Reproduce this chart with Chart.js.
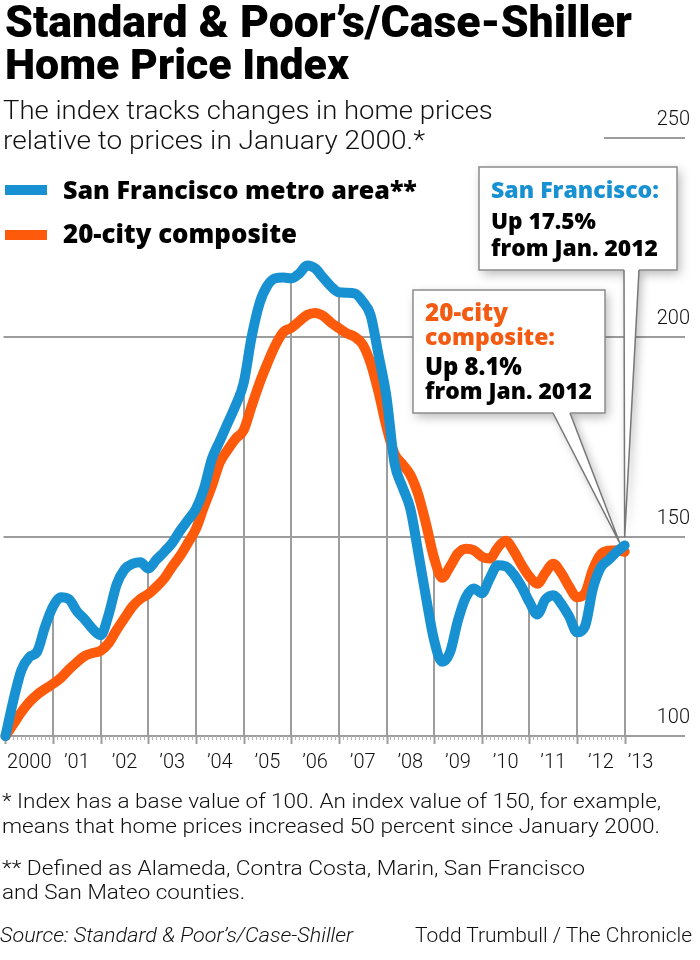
<!DOCTYPE html>
<html>
<head>
<meta charset="utf-8">
<script src="https://cdn.jsdelivr.net/npm/chart.js@4.4.1/dist/chart.umd.min.js"></script>
<style>
  body { margin: 0; background: #fff; }
  #wrap { position: relative; width: 700px; height: 960px; overflow: hidden; }
  canvas { position: absolute; left: 0; top: 0; }
  .t { position: absolute; white-space: nowrap; line-height: 1; transform: translateY(-50%);
       transform-origin: 0 50%; color: #111; font-family: Roboto, sans-serif; font-size: 20px; }
  .title { font-weight: 900; color: #000; }
  .sub, .foot { font-weight: 300; }
  .sub { font-size: 26px; }
  .foot { font-size: 21px; }
  .leg, .call { font-family: "Open Sans", sans-serif; font-weight: 800; color: #000; }
  .blue { color: #1791d1; }
  .orange { color: #f35a12; }
  .ital { font-style: italic; }
</style>
</head>
<body>
<div id="wrap">
  <canvas id="chart" width="700" height="960"></canvas>

  <div class="t title" style="left:5px;top:22px" data-w="627">Standard &amp; Poor’s/Case-Shiller</div>
  <div class="t title" style="left:5px;top:64px" data-w="344">Home Price Index</div>
  <div class="t sub" style="left:3px;top:110px" data-sx="490">The index tracks changes in home prices</div>
  <div class="t sub" style="left:3px;top:140px" data-sx="422">relative to prices in January 2000.*</div>

  <div class="t leg" style="left:63px;top:190px" data-w="354">San Francisco metro area**</div>
  <div class="t leg" style="left:63px;top:234px" data-w="234">20-city composite</div>

  <div class="t call blue" style="left:491px;top:190px" data-w="168">San Francisco:</div>
  <div class="t call" style="left:491px;top:221px" data-w="105">Up 17.5%</div>
  <div class="t call" style="left:491px;top:248px" data-w="167">from Jan. 2012</div>

  <div class="t call orange" style="left:425px;top:312px" data-w="83">20-city</div>
  <div class="t call orange" style="left:425px;top:336px" data-w="130">composite:</div>
  <div class="t call" style="left:425px;top:367px" data-w="97">Up 8.1%</div>
  <div class="t call" style="left:425px;top:391px" data-w="167">from Jan. 2012</div>

  <div class="t foot" style="left:2px;top:801px" data-sx="659">* Index has a base value of 100. An index value of 150, for example,</div>
  <div class="t foot" style="left:2px;top:826px" data-sx="658">means that home prices increased 50 percent since January 2000.</div>
  <div class="t foot" style="left:2px;top:868px" data-sx="583">** Defined as Alameda, Contra Costa, Marin, San Francisco</div>
  <div class="t foot" style="left:2px;top:892px" data-sx="243">and San Mateo counties.</div>
  <div class="t foot ital" style="left:0px;top:935px" data-sx="353">Source: Standard &amp; Poor’s/Case-Shiller</div>
  <div class="t foot" style="left:415px;top:935px" data-sx="277">Todd Trumbull / The Chronicle</div>
</div>

<script>
// every other month, Jan 2000 .. Jan 2013
const dates = [];
for (let yr = 2000; yr <= 2012; yr++) {
  for (const mo of ['Jan', 'Mar', 'May', 'Jul', 'Sep', 'Nov']) dates.push(mo + ' ' + yr);
}
dates.push('Jan 2013');

const sfIndex = [
  100, 109, 116.5, 119.8, 121.2, 127.5,
  132.5, 134.8, 134.3, 131.3, 129.2, 126.8,
  125.3, 130.5, 138, 141.8, 143.2, 143.6,
  142, 144.2, 146.2, 148.4, 151.5, 154.2,
  157, 162, 169.5, 174, 178.5, 183,
  188.5, 200, 208.5, 213, 214.8, 215,
  214.8, 216, 218, 217.3, 215, 212.8,
  211.3, 211.2, 211, 209, 205.5, 195.5,
  185, 168.5, 162.5, 157, 146, 134.5,
  124, 118.6, 121, 129, 134.8, 137,
  135.8, 139.5, 142.8, 142.6, 140.6, 137.5,
  133.6, 130.5, 134.2, 135.3, 133.2, 130,
  126, 127.5, 137, 142.3, 144.2, 146.2,
  147.8
];

const compositeIndex = [
  100, 103, 106, 108.5, 110.4, 111.8,
  113.1, 114.6, 116.7, 118.5, 120.1, 120.8,
  121.4, 123.3, 126.6, 129.6, 132.5, 134.4,
  135.6, 137.4, 139.5, 142.5, 145.2, 148.5,
  152, 157.5, 162.7, 168.6, 171.8, 174.6,
  176.7, 182.7, 188.5, 193.5, 198, 201.3,
  202.4, 204, 205.6, 206.1, 205.4, 203.7,
  202.3, 201, 200.1, 198.2, 193.5, 186.2,
  177.5, 170.8, 168.2, 165.5, 160.5, 153,
  144.6, 139.7, 142.5, 145.8, 147, 146.6,
  145, 144.5, 147.2, 149, 146.5, 143,
  140, 138.2, 140.9, 143.2, 140.9, 137.5,
  134.8, 135.8, 141.8, 145.6, 146.5, 146.6,
  146.2
];

const yTicks = [100, 150, 200, 250];
const yearLabels = ['2000', '’01', '’02', '’03', '’04', '’05', '’06', '’07', '’08', '’09', '’10', '’11', '’12', '’13'];

const BLUE = '#1791d1';
const ORANGE = '#fd5a0c';
const GRID = '#9d9d9d';

// fit text lines to the widths measured on the reference:
// bold lines by font size, the light (condensed-looking) ones by a horizontal squeeze
document.querySelectorAll('[data-w]').forEach(el => {
  const fs = parseFloat(getComputedStyle(el).fontSize);
  el.style.fontSize = (fs * el.dataset.w / el.getBoundingClientRect().width).toFixed(2) + 'px';
});
document.querySelectorAll('[data-sx]').forEach(el => {
  const k = el.dataset.sx / el.getBoundingClientRect().width;
  el.style.transform = 'translateY(-50%) scaleX(' + k.toFixed(3) + ')';
});

const months = dates.map((_, i) => i * 2);   // months since Jan 2000

const line = (ctx, x0, y0, x1, y1) => {
  ctx.beginPath(); ctx.moveTo(x0, y0); ctx.lineTo(x1, y1); ctx.stroke();
};

const frame = {
  id: 'frame',
  beforeDatasetsDraw(chart) {
    const { ctx, chartArea: a, scales: { x, y } } = chart;
    ctx.save();
    ctx.strokeStyle = GRID;
    ctx.lineWidth = 2;
    yTicks.forEach((v, k) => {
      const py = Math.round(y.getPixelForValue(v));
      // the top line only runs under its label
      const x0 = k === yTicks.length - 1 ? a.right - 81 : a.left;
      line(ctx, x0, py, a.right, py);
    });
    // year lines rise only to the upper of the two curves
    const pts = [0, 1].map(i => chart.getDatasetMeta(i).data);
    for (let m = 12; m <= months[months.length - 1]; m += 12) {
      const i = months.indexOf(m);
      const top = Math.min(pts[0][i].y, pts[1][i].y);
      const px = Math.round(x.getPixelForValue(m));
      line(ctx, px, y.bottom, px, top);
    }
    // month ticks under the base line
    for (let m = 0; m <= months[months.length - 1]; m++) {
      const px = Math.round(x.getPixelForValue(m)) + 0.5;
      const year = m % 12 === 0;
      ctx.lineWidth = year ? 2 : 1;
      ctx.strokeStyle = year ? GRID : '#b5b5b5';
      line(ctx, px, y.bottom, px, y.bottom + (year ? 8 : 4));
    }
    ctx.restore();
  },
  afterDatasetsDraw(chart) {
    const { ctx } = chart;
    const callouts = [
      { ds: 0, box: [479, 167, 198, 103], base: [624, 639], dx: 0, dy: -8 },
      { ds: 1, box: [413, 290, 192, 123], base: [553, 570], dx: -5, dy: -9 }
    ];
    callouts.forEach(c => {
      const pts = chart.getDatasetMeta(c.ds).data;
      const tip = pts[pts.length - 1];
      const [bx, by, bw, bh] = c.box;
      const bottom = by + bh;
      const pointer = (dy) => {
        ctx.beginPath();
        ctx.moveTo(c.base[0], bottom + dy);
        ctx.lineTo(tip.x + c.dx, tip.y + c.dy);
        ctx.lineTo(c.base[1], bottom + dy);
      };
      ctx.save();
      ctx.shadowColor = 'rgba(0,0,0,0.28)';
      ctx.shadowBlur = 10;
      ctx.shadowOffsetX = 3;
      ctx.shadowOffsetY = 4;
      ctx.fillStyle = '#fff';
      ctx.fillRect(bx, by, bw, bh);
      pointer(-1); ctx.closePath(); ctx.fill();
      ctx.shadowColor = 'transparent';
      ctx.fillRect(bx, by, bw, bh);
      ctx.strokeStyle = '#8c8c8c';
      ctx.lineWidth = 1.5;
      ctx.strokeRect(bx, by, bw, bh);
      pointer(-1); ctx.closePath(); ctx.fill();
      ctx.strokeStyle = '#777';
      pointer(0); ctx.stroke();
      ctx.restore();
    });
  }
};

// legend swatches
const swatches = {
  id: 'swatches',
  afterDraw(chart) {
    const { ctx } = chart;
    chart.data.datasets.forEach((d, i) => {
      ctx.fillStyle = d.borderColor;
      ctx.fillRect(5, 185 + i * 45, 42, 10);
    });
  }
};

const tickFont = { family: 'Roboto', size: 20, weight: 300 };

new Chart(document.getElementById('chart'), {
  type: 'line',
  data: {
    labels: dates,
    datasets: [
      {
        label: 'San Francisco metro area**',
        data: sfIndex.map((v, i) => ({ x: months[i], y: v })),
        borderColor: BLUE
      },
      {
        label: '20-city composite',
        data: compositeIndex.map((v, i) => ({ x: months[i], y: v })),
        borderColor: ORANGE
      }
    ]
  },
  options: {
    responsive: false,
    animation: false,
    devicePixelRatio: 1,
    layout: { padding: { left: 3, right: 5, top: 138, bottom: 184 } },
    datasets: {
      line: {
        borderWidth: 10,
        pointRadius: 0,
        cubicInterpolationMode: 'monotone',
        borderCapStyle: 'round',
        borderJoinStyle: 'round',
        clip: false
      }
    },
    plugins: { legend: { display: false }, tooltip: { enabled: false } },
    scales: {
      x: {
        type: 'linear',
        min: -0.5,
        max: 171.2,
        grid: { display: false },
        border: { display: false },
        afterBuildTicks: axis => {
          axis.ticks = yearLabels.map((_, i) => ({ value: i < 13 ? i * 12 + 6 : 160 }));
        },
        afterFit: axis => { axis.height = 40; },
        ticks: {
          autoSkip: false,
          maxRotation: 0,
          padding: 7,
          color: '#111',
          font: tickFont,
          callback: (v, i) => yearLabels[i]
        }
      },
      y: {
        position: 'right',
        min: 100,
        max: 250,
        grid: { display: false, drawTicks: false },
        border: { display: false },
        afterBuildTicks: axis => { axis.ticks = yTicks.map(v => ({ value: v })); },
        ticks: {
          mirror: true,
          padding: 5,
          labelOffset: -18,
          color: '#111',
          font: tickFont
        }
      }
    }
  },
  plugins: [frame, swatches]
});
</script>
</body>
</html>
